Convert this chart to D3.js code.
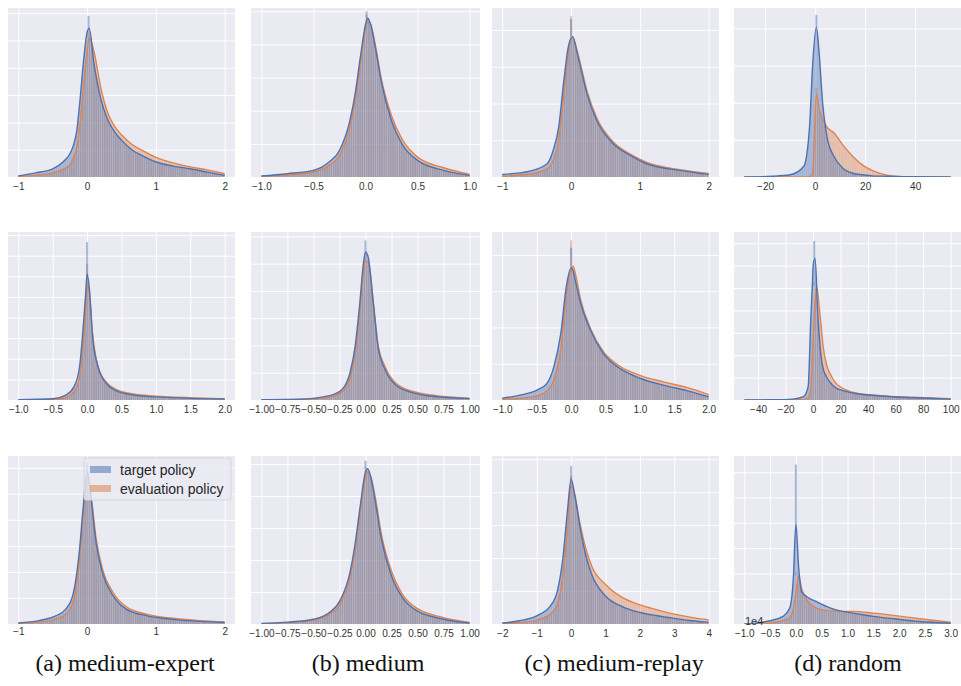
<!DOCTYPE html>
<html>
<head>
<meta charset="utf-8">
<script src="https://cdn.jsdelivr.net/npm/d3@7"></script>
<style>
  body { margin: 0; background: #fff; }
</style>
</head>
<body>
<svg id="chart" width="961" height="686"></svg>
<script>
// ---- data (heights in grid-step units) ----
const seriesNames = ["target policy", "evaluation policy"];
const captions = ["(a) medium-expert", "(b) medium", "(c) medium-replay", "(d) random"];

// row 1
const rangeA1 = [-1, 2];
const xA1 = [-1, -0.75, -0.5, -0.35, -0.25, -0.2, -0.15, -0.1, -0.05, 0, 0.03, 0.1, 0.2, 0.3, 0.4, 0.5, 0.65, 0.8, 1.0, 1.25, 1.5, 1.75, 2.0];
const targetA1 = [0.04, 0.15, 0.3, 0.55, 0.85, 1.15, 1.7, 2.9, 4.3, 5.3, 5.45, 4.15, 2.85, 2.1, 1.65, 1.35, 1.0, 0.78, 0.55, 0.4, 0.3, 0.18, 0.06];
const evalA1 = [0.02, 0.06, 0.15, 0.28, 0.45, 0.7, 1.1, 2.0, 3.4, 4.6, 5.12, 4.6, 3.25, 2.35, 1.85, 1.55, 1.2, 0.98, 0.72, 0.52, 0.37, 0.26, 0.12];
const spikeA1 = [0.02, 5.9, 5.3];
const ticksA1 = [-1, 0, 1, 2];

const rangeB1 = [-1, 1];
const xB1 = [-1, -0.75, -0.5, -0.35, -0.25, -0.15, -0.1, -0.05, 0, 0.02, 0.05, 0.1, 0.15, 0.25, 0.35, 0.5, 0.75, 1];
const targetB1 = [0.03, 0.1, 0.2, 0.45, 0.8, 1.7, 2.5, 3.6, 4.6, 4.8, 4.6, 3.8, 2.9, 1.7, 1.0, 0.5, 0.2, 0.05];
const evalB1 = [0.02, 0.06, 0.15, 0.35, 0.65, 1.5, 2.3, 3.4, 4.5, 4.7, 4.6, 3.9, 3.0, 1.85, 1.15, 0.6, 0.28, 0.08];
const spikeB1 = [0.01, 5.0, 4.9];
const ticksB1 = [-1, -0.5, 0, 0.5, 1];

const rangeC1 = [-1, 2];
const xC1 = [-1, -0.6, -0.35, -0.26, -0.18, -0.11, -0.04, 0.02, 0.1, 0.23, 0.37, 0.61, 0.86, 1.1, 1.58, 2.0];
const targetC1 = [0.07, 0.16, 0.36, 0.73, 1.36, 2.55, 3.55, 3.82, 3.27, 2.27, 1.55, 0.91, 0.59, 0.36, 0.18, 0.07];
const evalC1 = [0.02, 0.08, 0.22, 0.45, 1.0, 2.2, 3.4, 3.82, 3.35, 2.35, 1.62, 0.96, 0.62, 0.4, 0.2, 0.1];
const spikeC1 = [0.0, 4.3, 4.38];
const ticksC1 = [-1, 0, 1, 2];

const rangeD1 = [-28.3, 54.2];
const xD1 = [-28.3, -17, -10, -4.5, -2.2, -1, 0.5, 1.5, 3, 5, 7.5, 11, 15, 19, 23, 28.7, 35, 54.2];
const targetD1 = [0, 0.02, 0.06, 0.29, 1.37, 3.0, 4.03, 3.44, 2.0, 1.0, 0.56, 0.24, 0.1, 0.06, 0.03, 0.02, 0.01, 0];
const evalD1 = [0, 0, 0, 0, 0.01, 0.1, 2.25, 1.86, 1.55, 1.32, 1.19, 0.87, 0.56, 0.32, 0.17, 0.05, 0.01, 0];
const spikeD1 = [0.5, 4.36, 2.4];
const ticksD1 = [-20, 0, 20, 40];

// row 2
const rangeA2 = [-1, 2];
const xA2 = [-1, -0.5, -0.31, -0.19, -0.11, -0.06, -0.02, 0, 0.03, 0.08, 0.16, 0.28, 0.42, 0.67, 1.0, 1.5, 2.0];
const targetA2 = [0.01, 0.06, 0.24, 0.65, 1.6, 3.4, 5.2, 6.13, 5.5, 3.06, 1.6, 0.8, 0.45, 0.24, 0.15, 0.08, 0.05];
const evalA2 = [0.0, 0.03, 0.12, 0.4, 1.1, 2.6, 4.5, 5.7, 5.3, 3.2, 1.6, 0.86, 0.52, 0.29, 0.19, 0.11, 0.06];
const spikeA2 = [0.0, 7.66, 6.6];
const ticksA2 = [-1, -0.5, 0, 0.5, 1, 1.5, 2];

const rangeB2 = [-1, 1];
const xB2 = [-1, -0.63, -0.36, -0.23, -0.15, -0.1, -0.055, -0.02, 0, 0.026, 0.075, 0.12, 0.19, 0.29, 0.45, 0.68, 1];
const targetB2 = [0.01, 0.03, 0.15, 0.37, 0.98, 1.95, 3.54, 5.0, 5.43, 5.24, 3.54, 1.95, 1.1, 0.55, 0.27, 0.12, 0.05];
const evalB2 = [0.01, 0.02, 0.1, 0.28, 0.8, 1.7, 3.2, 4.7, 5.1, 5.05, 3.6, 2.05, 1.2, 0.62, 0.32, 0.16, 0.07];
const spikeB2 = [0.0, 5.85, 5.4];
const ticksB2 = [-1, -0.75, -0.5, -0.25, 0, 0.25, 0.5, 0.75, 1];

const rangeC2 = [-1, 2];
const xC2 = [-1, -0.73, -0.49, -0.35, -0.25, -0.15, -0.07, 0, 0.03, 0.06, 0.14, 0.28, 0.47, 0.71, 1.0, 1.34, 1.68, 2];
const targetC2 = [0.05, 0.14, 0.28, 0.46, 0.92, 1.83, 3.12, 3.64, 3.55, 3.3, 2.66, 1.93, 1.28, 0.87, 0.6, 0.41, 0.26, 0.09];
const evalC2 = [0.02, 0.05, 0.12, 0.25, 0.55, 1.4, 2.9, 3.62, 3.69, 3.5, 2.75, 1.98, 1.33, 0.93, 0.68, 0.5, 0.35, 0.15];
const spikeC2 = [0.0, 4.2, 4.4];
const ticksC2 = [-1, -0.5, 0, 0.5, 1, 1.5, 2];

const rangeD2 = [-50, 100];
const xD2 = [-50, -30, -15, -7, -3.6, -1.7, -0.5, 0, 1.2, 2.4, 3, 4.4, 5.5, 7.3, 9.7, 12.2, 17, 20, 30, 49, 73, 100];
const targetD2 = [0, 0.01, 0.04, 0.15, 0.6, 3.58, 5.2, 5.97, 6.34, 5.4, 4.33, 2.9, 2.09, 1.4, 1.04, 0.8, 0.52, 0.45, 0.3, 0.18, 0.1, 0.04];
const evalD2 = [0, 0, 0, 0.02, 0.1, 0.5, 2.0, 2.8, 4.18, 5.07, 4.95, 4.18, 3.5, 2.39, 1.6, 1.19, 0.72, 0.58, 0.33, 0.19, 0.12, 0.06];
const spikeD2 = [0.8, 7.1, 5.3];
const ticksD2 = [-40, -20, 0, 20, 40, 60, 80, 100];

// row 3
const rangeA3 = [-1, 2];
const xA3 = [-1, -0.7, -0.45, -0.31, -0.21, -0.11, -0.06, 0, 0.06, 0.13, 0.23, 0.38, 0.57, 0.86, 1.28, 1.64, 2];
const targetA3 = [0.04, 0.13, 0.32, 0.57, 1.08, 2.86, 4.39, 5.85, 4.77, 3.12, 1.91, 1.08, 0.57, 0.32, 0.17, 0.1, 0.06];
const evalA3 = [0.02, 0.07, 0.2, 0.38, 0.8, 2.5, 4.1, 5.6, 4.85, 3.3, 2.05, 1.2, 0.66, 0.38, 0.21, 0.13, 0.08];
const spikeA3 = [0.0, 6.2, 5.9];
const ticksA3 = [-1, 0, 1, 2];

const rangeB3 = [-1, 1];
const xB3 = [-1, -0.75, -0.5, -0.35, -0.25, -0.15, -0.1, -0.05, 0, 0.02, 0.05, 0.1, 0.15, 0.25, 0.35, 0.5, 0.75, 1];
const targetB3 = [0.02, 0.06, 0.15, 0.35, 0.7, 1.6, 2.5, 3.7, 4.75, 4.85, 4.6, 3.7, 2.7, 1.5, 0.85, 0.4, 0.15, 0.03];
const evalB3 = [0.01, 0.04, 0.12, 0.3, 0.6, 1.45, 2.3, 3.5, 4.6, 4.75, 4.6, 3.85, 2.85, 1.65, 0.95, 0.48, 0.2, 0.05];
const spikeB3 = [0.0, 5.1, 4.9];
const ticksB3 = [-1, -0.75, -0.5, -0.25, 0, 0.25, 0.5, 0.75, 1];

const rangeC3 = [-2, 4];
const xC3 = [-2, -1.5, -1, -0.6, -0.4, -0.25, -0.1, 0, 0.1, 0.25, 0.4, 0.6, 1, 1.5, 2, 2.5, 3, 3.5, 4];
const targetC3 = [0.03, 0.1, 0.25, 0.55, 1.0, 1.9, 3.5, 4.4, 3.95, 3.0, 2.2, 1.5, 0.85, 0.52, 0.35, 0.25, 0.17, 0.1, 0.05];
const evalC3 = [0.01, 0.04, 0.12, 0.3, 0.6, 1.4, 3.0, 4.2, 3.95, 3.1, 2.4, 1.75, 1.2, 0.8, 0.58, 0.43, 0.3, 0.2, 0.12];
const spikeC3 = [0.0, 4.8, 4.5];
const ticksC3 = [-2, -1, 0, 1, 2, 3, 4];

const rangeD3 = [-1, 3];
const xD3 = [-1, -0.5, -0.25, -0.12, -0.05, 0, 0.05, 0.11, 0.21, 0.4, 0.66, 0.9, 1.11, 1.5, 1.89, 2.4, 3];
const targetD3 = [0, 0.13, 0.3, 0.63, 1.8, 3.96, 2.33, 1.28, 1.08, 0.88, 0.64, 0.5, 0.43, 0.3, 0.21, 0.1, 0.03];
const evalD3 = [0, 0.04, 0.13, 0.25, 0.6, 1.2, 1.93, 1.41, 0.95, 0.63, 0.52, 0.5, 0.5, 0.43, 0.34, 0.21, 0.07];
const spikeD3 = [0.0, 6.3, 2.05];
const ticksD3 = [-1, -0.5, 0, 0.5, 1, 1.5, 2, 2.5, 3];

// ---- layout ----
const colX = [[8, 235], [251, 480], [492, 719], [734, 961]];
const rowY = [[8, 177], [232, 400], [456, 624]];
const blue = "#4c72b0", orange = "#dd8452";

const panels = [
  { row: 0, col: 0, range: rangeA1, x: xA1, target: targetA1, evaluation: evalA1, spike: spikeA1, ticks: ticksA1, fmt: "d", yTop: 6.19, font: 11.5, pad: 6 },
  { row: 0, col: 1, range: rangeB1, x: xB1, target: targetB1, evaluation: evalB1, spike: spikeB1, ticks: ticksB1, fmt: ".1f", yTop: 5.1, font: 11, pad: 6 },
  { row: 0, col: 2, range: rangeC1, x: xC1, target: targetC1, evaluation: evalC1, spike: spikeC1, ticks: ticksC1, fmt: "d", yTop: 4.6, font: 11.5, pad: 6 },
  { row: 0, col: 3, range: rangeD1, x: xD1, target: targetD1, evaluation: evalD1, spike: spikeD1, ticks: ticksD1, fmt: "d", yTop: 4.55, font: 11.5, pad: 6 },
  { row: 1, col: 0, range: rangeA2, x: xA2, target: targetA2, evaluation: evalA2, spike: spikeA2, ticks: ticksA2, fmt: ".1f", yTop: 8.15, font: 8.5, pad: 6 },
  { row: 1, col: 1, range: rangeB2, x: xB2, target: targetB2, evaluation: evalB2, spike: spikeB2, ticks: ticksB2, fmt: ".2f", yTop: 6.16, font: 7.3, pad: 6 },
  { row: 1, col: 2, range: rangeC2, x: xC2, target: targetC2, evaluation: evalC2, spike: spikeC2, ticks: ticksC2, fmt: ".1f", yTop: 4.63, font: 8.5, pad: 6 },
  { row: 1, col: 3, range: rangeD2, x: xD2, target: targetD2, evaluation: evalD2, spike: spikeD2, ticks: ticksD2, fmt: "d", yTop: 7.5, font: 8.5, pad: 6 },
  { row: 2, col: 0, range: rangeA3, x: xA3, target: targetA3, evaluation: evalA3, spike: spikeA3, ticks: ticksA3, fmt: "d", yTop: 6.45, font: 13.5, pad: 4 },
  { row: 2, col: 1, range: rangeB3, x: xB3, target: targetB3, evaluation: evalB3, spike: spikeB3, ticks: ticksB3, fmt: ".2f", yTop: 5.25, font: 7.3, pad: 6 },
  { row: 2, col: 2, range: rangeC3, x: xC3, target: targetC3, evaluation: evalC3, spike: spikeC3, ticks: ticksC3, fmt: "d", yTop: 5.1, font: 8, pad: 6 },
  { row: 2, col: 3, range: rangeD3, x: xD3, target: targetD3, evaluation: evalD3, spike: spikeD3, ticks: ticksD3, fmt: ".1f", yTop: 6.64, font: 8.3, pad: 6 }
];

const svg = d3.select("#chart");
const defs = svg.append("defs");

// thin bin edges of the histograms
defs.append("pattern")
  .attr("id", "bins")
  .attr("patternUnits", "userSpaceOnUse")
  .attr("width", 2.2)
  .attr("height", 20)
  .append("rect")
  .attr("width", 0.6)
  .attr("height", 20)
  .attr("fill", "#fff")
  .attr("opacity", 0.16);

panels.forEach((p, i) => {
  const [x0, x1] = colX[p.col];
  const [y0, y1] = rowY[p.row];
  const margin = (p.range[1] - p.range[0]) * 0.05;

  const x = d3.scaleLinear()
    .domain([p.range[0] - margin, p.range[1] + margin])
    .range([x0, x1]);
  const y = d3.scaleLinear()
    .domain([0, p.yTop])
    .range([y1, y0]);

  const g = svg.append("g");
  g.append("rect")
    .attr("x", x0).attr("y", y0)
    .attr("width", x1 - x0).attr("height", y1 - y0)
    .attr("fill", "#eaeaf2");

  // horizontal grid, no labels
  g.append("g")
    .attr("transform", `translate(${x0},0)`)
    .call(d3.axisLeft(y)
      .tickValues(d3.range(1, Math.floor(p.yTop) + 1))
      .tickSize(-(x1 - x0))
      .tickFormat(""))
    .call(a => {
      a.select(".domain").remove();
      a.selectAll("line").attr("stroke", "#fff").attr("stroke-width", 1);
    });

  // x axis + vertical grid
  g.append("g")
    .attr("transform", `translate(0,${y1})`)
    .attr("font-family", "'Liberation Sans', Arial, sans-serif")
    .attr("font-size", p.font)
    .call(d3.axisBottom(x)
      .tickValues(p.ticks)
      .tickSize(-(y1 - y0))
      .tickPadding(p.pad)
      .tickFormat(d3.format(p.fmt)))
    .call(a => {
      a.select(".domain").remove();
      a.selectAll("line").attr("stroke", "#fff").attr("stroke-width", 1);
      a.selectAll("text").attr("fill", "#333");
    });

  const clipId = "clip" + i;
  defs.append("clipPath").attr("id", clipId)
    .append("rect")
    .attr("x", x0).attr("y", y0)
    .attr("width", x1 - x0).attr("height", y1 - y0);
  const plot = g.append("g").attr("clip-path", `url(#${clipId})`);

  const area = d3.area()
    .x((d, j) => x(p.x[j]))
    .y0(y1)
    .y1(d => y(d))
    .curve(d3.curveMonotoneX);
  const line = d3.line()
    .x((d, j) => x(p.x[j]))
    .y(d => y(d))
    .curve(d3.curveMonotoneX);

  const series = [
    { values: p.evaluation, color: orange, spike: p.spike[2] },
    { values: p.target, color: blue, spike: p.spike[1] }
  ];
  const binW = (p.range[1] - p.range[0]) / 100;

  series.forEach(s => {
    plot.append("path")
      .attr("d", area(s.values))
      .attr("fill", s.color)
      .attr("fill-opacity", 0.45);
    const top = d3.max(s.values);
    if (s.spike > top) {
      plot.append("rect")
        .attr("x", x(p.spike[0] - binW / 2))
        .attr("width", x(binW) - x(0))
        .attr("y", y(s.spike))
        .attr("height", y(top) - y(s.spike))
        .attr("fill", s.color)
        .attr("fill-opacity", 0.45);
    }
  });

  series.forEach(s => {
    plot.append("path")
      .attr("d", area(s.values))
      .attr("fill", "url(#bins)");
  });

  series.forEach(s => {
    plot.append("path")
      .attr("d", line(s.values))
      .attr("fill", "none")
      .attr("stroke", s.color)
      .attr("stroke-width", 1.4);
  });

  // legend sits in the bottom-left panel
  if (p.row === 2 && p.col === 0) {
    const lg = g.append("g").attr("transform", "translate(84,458)");
    lg.append("rect")
      .attr("width", 147).attr("height", 42).attr("rx", 2)
      .attr("fill", "#eaeaf2").attr("fill-opacity", 0.8)
      .attr("stroke", "#d5d5dd");
    [blue, orange].forEach((c, k) => {
      lg.append("rect")
        .attr("x", 6).attr("y", 8 + k * 19)
        .attr("width", 21).attr("height", 7)
        .attr("fill", c).attr("fill-opacity", 0.55);
      lg.append("text")
        .attr("x", 36).attr("y", 16.5 + k * 19)
        .attr("font-family", "'Liberation Sans', Arial, sans-serif")
        .attr("font-size", 14)
        .attr("fill", "#262626")
        .text(seriesNames[k]);
    });
  }

  // stray offset label of the last panel
  if (p.row === 2 && p.col === 3) {
    g.append("text")
      .attr("x", x0 + 11).attr("y", y1 + 1)
      .attr("font-family", "'Liberation Sans', Arial, sans-serif")
      .attr("font-size", 11)
      .attr("fill", "#333")
      .text("1e4");
  }
});

// sub-figure captions
const captionX = [125, 368, 614, 848];
svg.selectAll("text.caption")
  .data(captions)
  .join("text")
  .attr("class", "caption")
  .attr("x", (d, i) => captionX[i])
  .attr("y", 671)
  .attr("text-anchor", "middle")
  .attr("font-family", "'Liberation Serif', 'DejaVu Serif', serif")
  .attr("font-size", 24)
  .attr("fill", "#111")
  .text(d => d);
</script>
</body>
</html>
